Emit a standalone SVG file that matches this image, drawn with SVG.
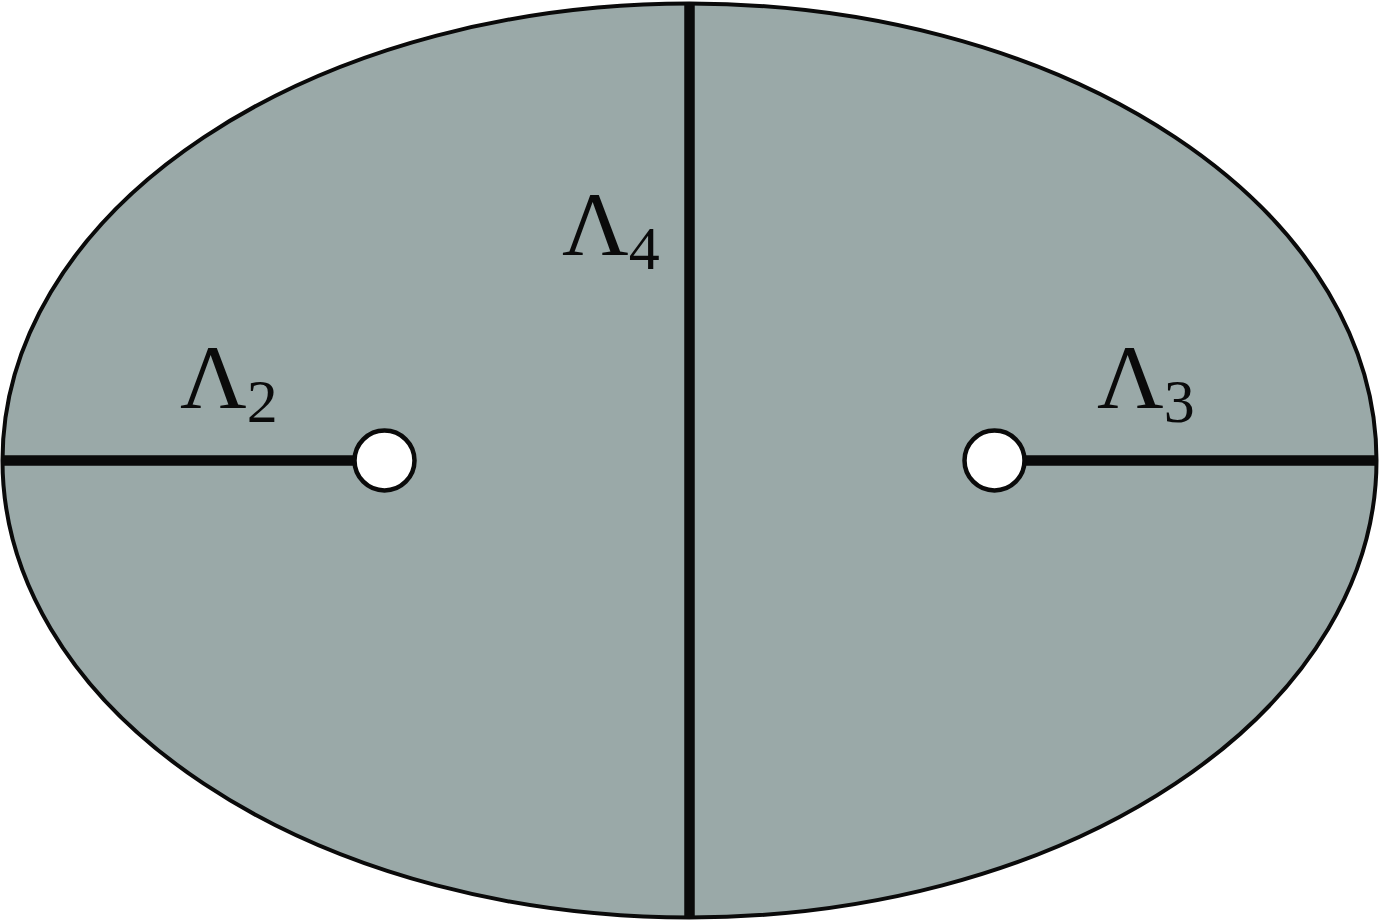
<svg xmlns="http://www.w3.org/2000/svg" width="1379" height="921" viewBox="0 0 1379 921">
<style>
.bar{stroke:#0a0a0a;stroke-width:10.5;fill:none}
.hole{fill:#ffffff;stroke:#0a0a0a;stroke-width:4.5}
.lab{font-family:"Liberation Serif","DejaVu Serif",serif;fill:#0a0a0a}
.big{font-size:92px}
.sub{font-size:62px}
</style>
<rect width="1379" height="921" fill="#ffffff"/>
<g id="region">
<ellipse cx="689.5" cy="460.5" rx="687" ry="457" fill="#9aa9a8" stroke="#0a0a0a" stroke-width="4"/>
</g>
<g id="connectors">
<line class="bar" x1="689.5" y1="3" x2="689.5" y2="918"/>
<line class="bar" x1="3" y1="460.5" x2="356" y2="460.5"/>
<line class="bar" x1="1022" y1="460.5" x2="1376" y2="460.5"/>
</g>
<g id="hole-left"><circle class="hole" cx="384.5" cy="460.5" r="30"/></g>
<g id="hole-right"><circle class="hole" cx="994.5" cy="460.5" r="30"/></g>
<g id="label-2"><text class="lab" x="180" y="408"><tspan class="big">Λ</tspan><tspan class="sub" dy="14">2</tspan></text></g>
<g id="label-4"><text class="lab" x="562" y="255"><tspan class="big">Λ</tspan><tspan class="sub" dy="14">4</tspan></text></g>
<g id="label-3"><text class="lab" x="1097" y="408"><tspan class="big">Λ</tspan><tspan class="sub" dy="14">3</tspan></text></g>
</svg>
